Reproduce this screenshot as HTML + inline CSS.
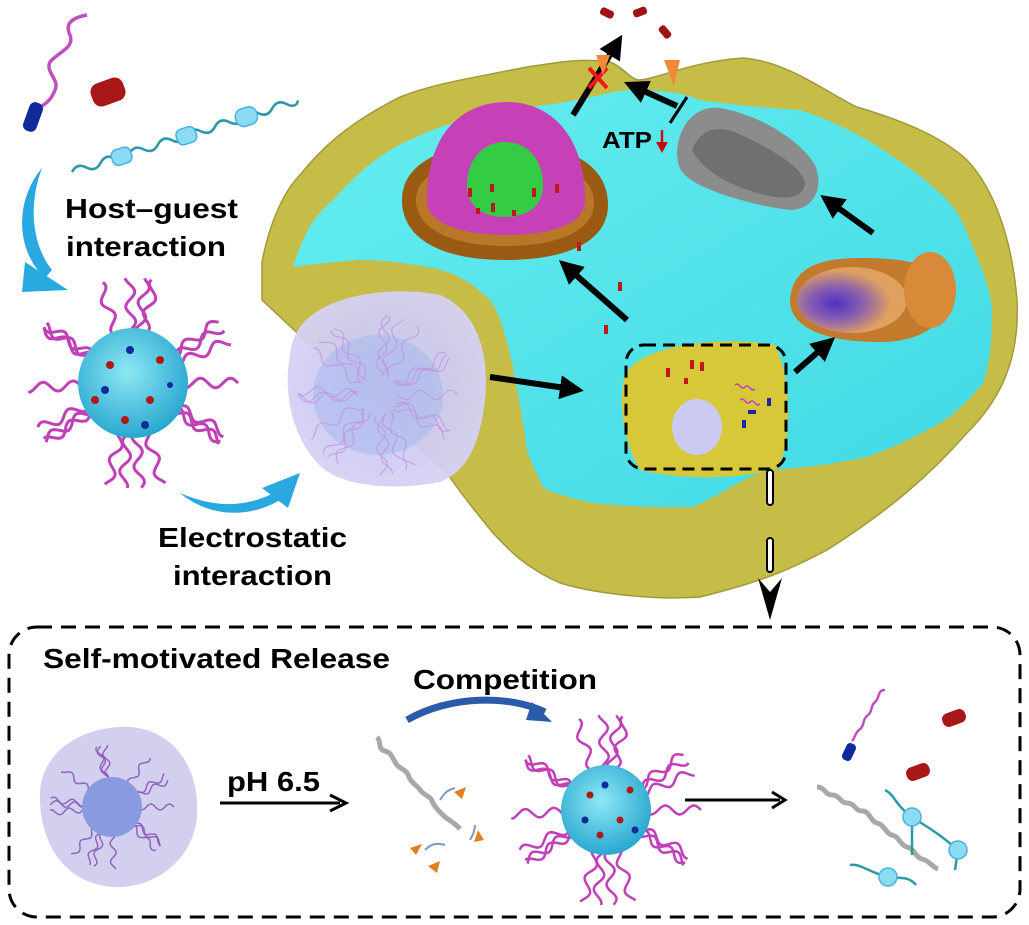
<!DOCTYPE html>
<html><head><meta charset="utf-8"><style>
body{margin:0;background:#fff}
svg{display:block}
text{font-family:"Liberation Sans",Arial,sans-serif;font-weight:bold;fill:#000}
</style></head><body>
<svg id="s" width="1029" height="925" viewBox="0 0 1029 925" xmlns="http://www.w3.org/2000/svg">
<defs>
<radialGradient id="np" cx="45%" cy="40%" r="60%"><stop offset="0" stop-color="#8ee8f5"/><stop offset="1" stop-color="#2aa8d0"/></radialGradient>
<radialGradient id="ves" cx="50%" cy="50%" r="55%"><stop offset="0" stop-color="#c4c4f0"/><stop offset="1" stop-color="#d6d2f4"/></radialGradient>
<linearGradient id="cy" x1="0" y1="0" x2="1" y2="1"><stop offset="0" stop-color="#66eef0"/><stop offset="1" stop-color="#40d8e4"/></linearGradient>
<radialGradient id="mi" cx="35%" cy="55%" r="50%"><stop offset="0" stop-color="#5030c0"/><stop offset=".5" stop-color="#8a60b0"/><stop offset="1" stop-color="#e0a060"/></radialGradient>
<marker id="ah" markerWidth="4" markerHeight="4" refX="2" refY="2" orient="auto"><path d="M0,0L4,2L0,4z" fill="#000"/></marker>
</defs>
<path d="M262,262 C270,220 285,190 300,175 C320,150 345,125 400,97 C430,85 460,80 527,67 C560,62 580,58 610,62 C625,68 630,80 640,80 C660,78 690,62 743,58 C790,62 830,95 857,107 C900,120 940,135 967,160 C995,190 1012,240 1017,300 C1020,360 1000,400 967,433 C930,475 890,510 827,550 C790,570 760,582 700,597 C660,600 600,595 560,583 C520,565 505,545 493,533 C470,505 455,485 447,473 L262,300 Z" fill="#c6bc48" stroke="#a09a3a" stroke-width="1.5"/>
<path d="M293,267 C305,230 315,215 333,200 C360,170 385,150 410,140 C440,125 470,117 493,113 C520,108 540,106 560,103 C590,98 610,92 627,90 C660,90 680,92 700,100 C740,106 770,108 800,110 C830,120 850,130 867,140 C900,160 920,175 933,187 C955,205 962,220 967,233 C980,265 990,285 992,310 C992,350 988,370 983,383 C965,405 950,418 933,427 C900,445 880,452 867,457 C830,465 800,468 767,470 C740,480 720,495 693,507 C650,508 620,506 593,503 C565,497 550,492 543,487 C535,470 530,460 527,450 C520,400 515,380 513,367 C505,330 498,310 490,300 C470,280 450,270 427,267 C400,262 380,260 360,260 C330,262 310,265 293,267 Z" fill="url(#cy)"/>
<path d="M402,200 C402,160 450,143 505,143 C570,143 608,165 608,205 C608,240 570,260 505,260 C440,260 402,238 402,200Z" fill="#9a5a12"/>
<path d="M416,200 C416,172 455,158 505,158 C560,158 594,175 594,203 C594,230 560,246 505,246 C450,246 416,228 416,200Z" fill="#b87828"/>
<path d="M427,200 C427,130 465,102 507,102 C550,102 585,135 585,200 C585,225 550,235 507,235 C465,235 427,225 427,200Z" fill="#c640b8"/>
<path d="M467,185 C467,158 485,142 505,142 C528,142 543,160 543,185 C543,208 525,217 505,217 C485,217 467,208 467,185Z" fill="#33cc44"/>
<g fill="#c01818"><rect x="468" y="188" width="4" height="9"/><rect x="490" y="184" width="4" height="8"/><rect x="532" y="188" width="4" height="9"/><rect x="555" y="184" width="4" height="9"/><rect x="491" y="203" width="4" height="9"/><rect x="476" y="208" width="4" height="6"/><rect x="512" y="210" width="4" height="6"/><rect x="577" y="242" width="4" height="9"/><rect x="618" y="282" width="4" height="9"/><rect x="604" y="325" width="4" height="9"/></g>
<path d="M677,150 C680,120 700,105 720,108 C760,115 800,140 815,165 C825,190 812,210 790,210 C750,205 700,190 685,175 C678,168 677,160 677,150Z" fill="#8c8c8c"/>
<path d="M692,150 C700,130 715,125 735,132 C770,148 800,165 805,182 C805,196 790,200 770,196 C740,190 705,175 692,150Z" fill="#707070"/>
<path d="M790,300 C792,270 815,258 860,258 C900,258 935,262 945,285 C955,315 930,342 880,342 C830,342 790,330 790,300Z" fill="#c47a2c"/>
<ellipse cx="852" cy="300" rx="55" ry="33" fill="url(#mi)"/>
<ellipse cx="930" cy="290" rx="26" ry="38" fill="#d88a38"/>
<path d="M298,330 C320,295 390,285 440,295 C475,310 490,350 485,400 C480,440 470,470 440,482 C400,490 350,488 325,470 C300,450 285,410 288,370 C290,350 292,340 298,330Z" fill="url(#ves)" opacity=".95"/>
<ellipse cx="378" cy="395" rx="65" ry="60" fill="#a8b8ee" opacity=".55"/>
<g id="vc"></g>
<path d="M625,375 C640,345 720,335 775,345 C792,380 792,440 778,468 C740,480 680,480 640,470 C622,440 618,400 625,375Z" fill="#d6c838"/>
<ellipse cx="697" cy="427" rx="25" ry="28" fill="#cccaf2"/>
<g fill="#c01818"><rect x="666" y="368" width="4" height="9"/><rect x="690" y="360" width="4" height="9"/><rect x="700" y="362" width="4" height="9"/><rect x="684" y="378" width="4" height="6"/></g>
<path d="M735,385 c5,-4 5,6 10,2 c5,-4 5,6 10,2 M740,400 c5,-4 5,6 10,2 c5,-4 5,6 10,2" stroke="#c040c0" stroke-width="1.5" fill="none"/>
<g fill="#1a2aa0"><rect x="748" y="410" width="8" height="4"/><rect x="742" y="420" width="4" height="8"/><rect x="767" y="398" width="4" height="8"/></g>
<rect x="626" y="345" width="160" height="124" rx="18" fill="none" stroke="#000" stroke-width="3" stroke-dasharray="12,7"/>
<g stroke="#000" stroke-width="6" fill="none" marker-end="url(#ah)">
<line x1="490" y1="377" x2="572" y2="389"/>
<line x1="627" y1="320" x2="568" y2="268"/>
<line x1="795" y1="372" x2="826" y2="345"/>
<line x1="873" y1="233" x2="830" y2="202"/>
<line x1="573" y1="115" x2="616" y2="45"/>
<line x1="677" y1="106" x2="635" y2="87"/>
</g>
<line x1="670" y1="123" x2="687" y2="97" stroke="#000" stroke-width="3"/>
<path d="M589,68 L607,88 M607,68 L589,88" stroke="#f01818" stroke-width="4"/>
<path d="M664,60 L680,60 L674,86Z" fill="#f08a3a"/>
<path d="M596,55 L610,55 L603,75Z" fill="#f08a3a"/>
<g fill="#a01414"><rect x="600" y="9" width="14" height="8" rx="3" transform="rotate(25 607 13)"/><rect x="633" y="8" width="14" height="8" rx="3" transform="rotate(-20 640 12)"/><rect x="658" y="28" width="14" height="8" rx="3" transform="rotate(50 665 32)"/></g>
<text x="602" y="148" font-size="23" textLength="50" lengthAdjust="spacingAndGlyphs">ATP</text>
<path d="M662,130 L662,145" stroke="#c01010" stroke-width="2.5"/><path d="M656,142 L668,142 L662,153Z" fill="#c01010"/>
<rect x="767" y="470" width="6" height="35" rx="3" fill="#fff" stroke="#000" stroke-width="2"/>
<rect x="767" y="538" width="6" height="34" rx="3" fill="#fff" stroke="#000" stroke-width="2"/>
<path d="M758,578 L770,592 L782,578 L770,620Z" fill="#000"/>
<path d="M87,15 C70,18 65,25 70,35 C75,48 58,52 50,62 C45,72 60,80 55,90 C52,98 48,102 42,106" stroke="#c050c0" stroke-width="3.5" fill="none"/>
<rect x="26" y="102" width="14" height="30" rx="6" fill="#102a9a" transform="rotate(20 33 117)"/>
<rect x="91" y="80" width="34" height="24" rx="9" fill="#a81818" transform="rotate(-20 108 92)"/>
<g transform="translate(72 172) rotate(-17.6)">
<path d="M0,0 c5,-5 10,-5 15,0 c5,5 10,5 15,0 c5,-5 10,-5 15,0 c5,5 10,5 15,0 c5,-5 10,-5 15,0 c5,5 10,5 15,0 c5,-5 10,-5 15,0 c5,5 10,5 15,0 c5,-5 10,-5 15,0 c5,5 10,5 15,0 c5,-5 10,-5 15,0 c5,5 10,5 15,0 c5,-5 10,-5 15,0 c5,5 10,5 15,0 c5,-5 10,-5 15,0 c5,5 10,5 12,0" stroke="#2a9aa8" stroke-width="2.5" fill="none"/>
<g fill="#8adcf4" stroke="#4ab0e0" stroke-width="1.5"><rect x="42" y="-8" width="20" height="16" rx="6"/><rect x="110" y="-8" width="20" height="16" rx="6"/><rect x="172" y="-9" width="22" height="18" rx="8"/></g>
</g>
<path d="M42,168 C15,200 15,250 45,278 L52,270 C32,245 28,205 42,168Z" fill="#2aa8e0"/>
<path d="M25,262 L68,290 L22,292Z" fill="#2aa8e0"/>
<path d="M180,493 C210,518 250,518 280,500 L276,492 C245,508 215,508 180,493Z" fill="#2aa8e0"/>
<path d="M262,488 L300,473 L288,508Z" fill="#2aa8e0"/>
<text x="65" y="218" font-size="28" textLength="173" lengthAdjust="spacingAndGlyphs">Host–guest</text>
<text x="66" y="256" font-size="28" textLength="160" lengthAdjust="spacingAndGlyphs">interaction</text>
<text x="158" y="547" font-size="28" textLength="189" lengthAdjust="spacingAndGlyphs">Electrostatic</text>
<text x="173" y="585" font-size="28" textLength="159" lengthAdjust="spacingAndGlyphs">interaction</text>
<g id="c1"></g>
<circle cx="133" cy="383" r="55" fill="url(#np)"/>
<g fill="#b01818"><circle cx="110" cy="365" r="4"/><circle cx="150" cy="400" r="4"/><circle cx="125" cy="420" r="4"/><circle cx="160" cy="360" r="4"/><circle cx="95" cy="400" r="4"/></g>
<g fill="#102a9a"><circle cx="130" cy="350" r="4"/><circle cx="105" cy="390" r="4"/><circle cx="145" cy="425" r="4"/><circle cx="170" cy="385" r="3"/></g>
<rect x="9" y="627" width="1011" height="290" rx="28" fill="none" stroke="#000" stroke-width="3" stroke-dasharray="15,9"/>
<text x="43" y="668" font-size="28" textLength="347" lengthAdjust="spacingAndGlyphs">Self-motivated Release</text>
<text x="413" y="689" font-size="28" textLength="184" lengthAdjust="spacingAndGlyphs">Competition</text>
<path d="M407,720 C450,695 510,695 545,712" stroke="#2a5aa8" stroke-width="7" fill="none"/>
<path d="M532,702 L552,722 L526,720Z" fill="#2a5aa8"/>
<path d="M40,790 C45,745 90,725 130,727 C175,730 200,770 197,815 C195,855 160,888 115,887 C70,885 38,850 40,790Z" fill="#d2d0ee"/>
<g id="c2"></g>
<circle cx="112" cy="807" r="30" fill="#8a9ae0"/>
<text x="227" y="791" font-size="28" textLength="93" lengthAdjust="spacingAndGlyphs">pH 6.5</text>
<line x1="220" y1="803" x2="340" y2="803" stroke="#000" stroke-width="3"/>
<path d="M330,795 L346,803 L330,811" stroke="#000" stroke-width="3" fill="none"/>
<path d="M377,737 c5,5 0,12 8,14 c8,2 8,10 12,14 c5,5 10,5 12,12 c3,7 8,8 12,14 c4,5 10,5 12,12 c3,6 8,10 12,14 c5,4 10,6 15,12" stroke="#a8a8a8" stroke-width="5" fill="none"/>
<path d="M440,800 c5,-8 8,-10 15,-12 M425,850 c5,-5 10,-8 20,-5 M470,840 c3,-5 5,-10 5,-15" stroke="#7a9ac0" stroke-width="2" fill="none"/>
<g fill="#e08020"><path d="M454,792l12,-5l-4,12z"/><path d="M410,848l12,-4l-6,11z"/><path d="M428,866l12,-5l-3,12z"/><path d="M478,830l-4,12l10,-2z"/></g>
<g id="c3"></g>
<circle cx="606" cy="810" r="45" fill="url(#np)"/>
<g fill="#b01818"><circle cx="590" cy="795" r="3.5"/><circle cx="620" cy="820" r="3.5"/><circle cx="600" cy="835" r="3.5"/><circle cx="630" cy="790" r="3.5"/></g>
<g fill="#102a9a"><circle cx="605" cy="785" r="3.5"/><circle cx="585" cy="820" r="3.5"/><circle cx="635" cy="830" r="3.5"/></g>
<line x1="685" y1="800" x2="780" y2="800" stroke="#000" stroke-width="3"/>
<path d="M772,792 L785,800 L772,808" stroke="#000" stroke-width="3" fill="none"/>
<path d="M885,690 c-8,0 -5,8 -10,12 c-5,4 -2,10 -8,14 c-5,4 -2,10 -8,14 c-4,3 -4,8 -7,11" stroke="#c050c0" stroke-width="2.5" fill="none"/>
<rect x="844" y="743" width="10" height="18" rx="4" fill="#102a9a" transform="rotate(25 849 752)"/>
<rect x="942" y="711" width="24" height="14" rx="6" fill="#a81818" transform="rotate(-20 954 718)"/>
<rect x="906" y="765" width="24" height="14" rx="6" fill="#a81818" transform="rotate(-20 918 772)"/>
<path d="M817,787 c8,0 8,8 15,8 c8,0 8,8 15,8 c8,0 8,8 15,8 c8,0 8,10 15,12 c8,2 8,10 15,12 c8,2 8,10 15,12 c8,2 8,10 15,12 c8,2 10,8 16,10" stroke="#a8a8a8" stroke-width="5" fill="none"/>
<path d="M885,790 c10,5 10,15 27,27 c15,10 25,15 46,33 M850,865 c10,-2 20,8 38,12 c10,2 20,-2 28,8 M912,817 L912,855 M958,850 L955,870" stroke="#2a9aa8" stroke-width="2.5" fill="none"/>
<g fill="#8adcf4" stroke="#4ab0e0" stroke-width="1.5"><circle cx="912" cy="817" r="9"/><circle cx="958" cy="850" r="9"/><circle cx="888" cy="877" r="9"/></g>
</svg>
<script>
(function(){
var NS="http://www.w3.org/2000/svg";
function chains(id,cx,cy,r0,r1,n,col,w,op){
  var g=document.getElementById(id);
  if(!g)return;
  for(var i=0;i<n;i++){
    var a=i/n*Math.PI*2+0.3*Math.sin(i*1.7),d="";
    var ca=Math.cos(a),sa=Math.sin(a);
    for(var k=0;k<=24;k++){
      var t=k/24,r=r0+(r1-r0)*t,o=Math.sin(t*Math.PI*4+i)*(r1-r0)*0.08;
      var x=cx+ca*r-sa*o,y=cy+sa*r+ca*o;
      d+=(k?"L":"M")+x.toFixed(1)+","+y.toFixed(1);
    }
    var p=document.createElementNS(NS,"path");
    p.setAttribute("d",d);p.setAttribute("stroke",col);p.setAttribute("stroke-width",w);
    p.setAttribute("fill","none");p.setAttribute("opacity",op);
    g.appendChild(p);
  }
}
try{
chains("c1",133,383,45,105,22,"#c040b8",3,1);
chains("c2",112,807,25,62,18,"#8a5ab8",1.5,0.9);
chains("c3",606,810,38,95,22,"#c040b8",2.5,1);
chains("vc",378,395,20,80,26,"#c090e0",1.2,0.7);
}catch(e){}
})();
</script>
</body></html>
